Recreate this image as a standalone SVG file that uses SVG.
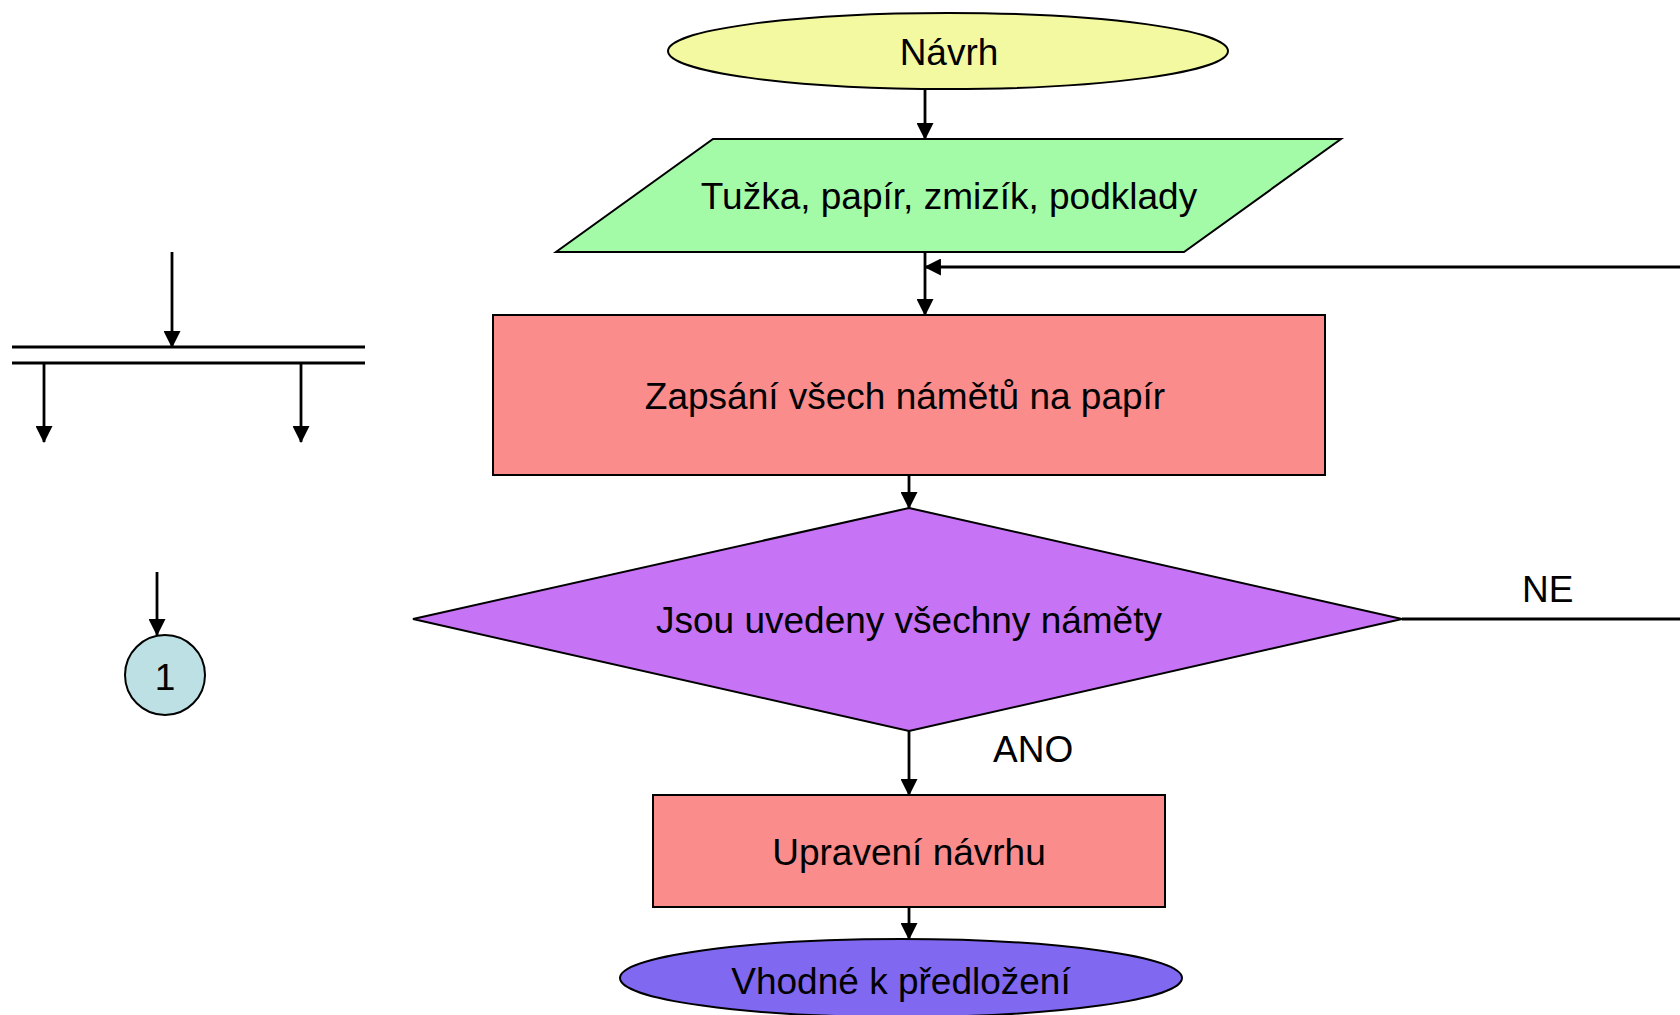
<svg xmlns="http://www.w3.org/2000/svg" width="1680" height="1015" viewBox="0 0 1680 1015">
<style>
  text { font-family: "Liberation Sans", Arial, sans-serif; font-size: 37px; fill: #000; }
  .c { text-anchor: middle; }
  .shape { stroke: #000; stroke-width: 2; }
  .conn { stroke: #000; stroke-width: 2.8; fill: none; }
  .bar { stroke: #000; stroke-width: 3.2; fill: none; }
</style>
<defs>
  <marker id="arr" markerUnits="userSpaceOnUse" markerWidth="17" markerHeight="17" viewBox="0 0 16 16" refX="15" refY="8" orient="auto">
    <path d="M0,0 L16,8 L0,16 z" fill="#000"/>
  </marker>
</defs>
<rect width="1680" height="1015" fill="#fff"/>

<g id="connectors">
  <line class="conn" x1="925" y1="89" x2="925" y2="139" marker-end="url(#arr)"/>
  <line class="conn" x1="925" y1="252" x2="925" y2="315" marker-end="url(#arr)"/>
  <line class="conn" x1="1680" y1="267" x2="925" y2="267" marker-end="url(#arr)"/>
  <line class="conn" x1="909" y1="475" x2="909" y2="508" marker-end="url(#arr)"/>
  <line class="conn" x1="909" y1="731" x2="909" y2="795" marker-end="url(#arr)"/>
  <line class="conn" x1="909" y1="907" x2="909" y2="939" marker-end="url(#arr)"/>
  <line class="conn" x1="1402" y1="619" x2="1680" y2="619"/>
  <text id="label-ne" x="1522" y="602">NE</text>
  <text id="label-ano" x="993" y="762">ANO</text>
</g>

<g id="node-navrh">
  <ellipse class="shape" cx="948" cy="51" rx="280" ry="38" fill="#F3F9A0"/>
  <text class="c" x="949" y="65">Návrh</text>
</g>

<g id="node-tuzka">
  <polygon class="shape" points="713,139 1341,139 1184,252 556,252" fill="#A3FBA8"/>
  <text class="c" x="949" y="209">Tužka, papír, zmizík, podklady</text>
</g>

<g id="node-zapsani">
  <rect class="shape" x="493" y="315" width="832" height="160" fill="#FA8C8C"/>
  <text class="c" x="905" y="409">Zapsání všech námětů na papír</text>
</g>

<g id="node-jsou">
  <polygon class="shape" points="909,508 1402,619 909,731 413,619" fill="#C773F5"/>
  <text class="c" x="909" y="633">Jsou uvedeny všechny náměty</text>
</g>

<g id="node-upraveni">
  <rect class="shape" x="653" y="795" width="512" height="112" fill="#FA8C8C"/>
  <text class="c" x="909" y="865">Upravení návrhu</text>
</g>

<g id="node-vhodne">
  <ellipse class="shape" cx="901" cy="978" rx="281" ry="39" fill="#8068F0"/>
  <text class="c" x="901" y="994">Vhodné k předložení</text>
</g>

<g id="legend-fork">
  <line class="bar" x1="12" y1="347" x2="365" y2="347"/>
  <line class="bar" x1="12" y1="363" x2="365" y2="363"/>
  <line class="conn" x1="172" y1="252" x2="172" y2="347" marker-end="url(#arr)"/>
  <line class="conn" x1="44" y1="363" x2="44" y2="442" marker-end="url(#arr)"/>
  <line class="conn" x1="301" y1="363" x2="301" y2="442" marker-end="url(#arr)"/>
</g>

<g id="legend-connector">
  <line class="conn" x1="157" y1="572" x2="157" y2="635" marker-end="url(#arr)"/>
  <circle class="shape" cx="165" cy="675" r="40" fill="#BCE0E4"/>
  <text class="c" x="165" y="690">1</text>
</g>
</svg>
